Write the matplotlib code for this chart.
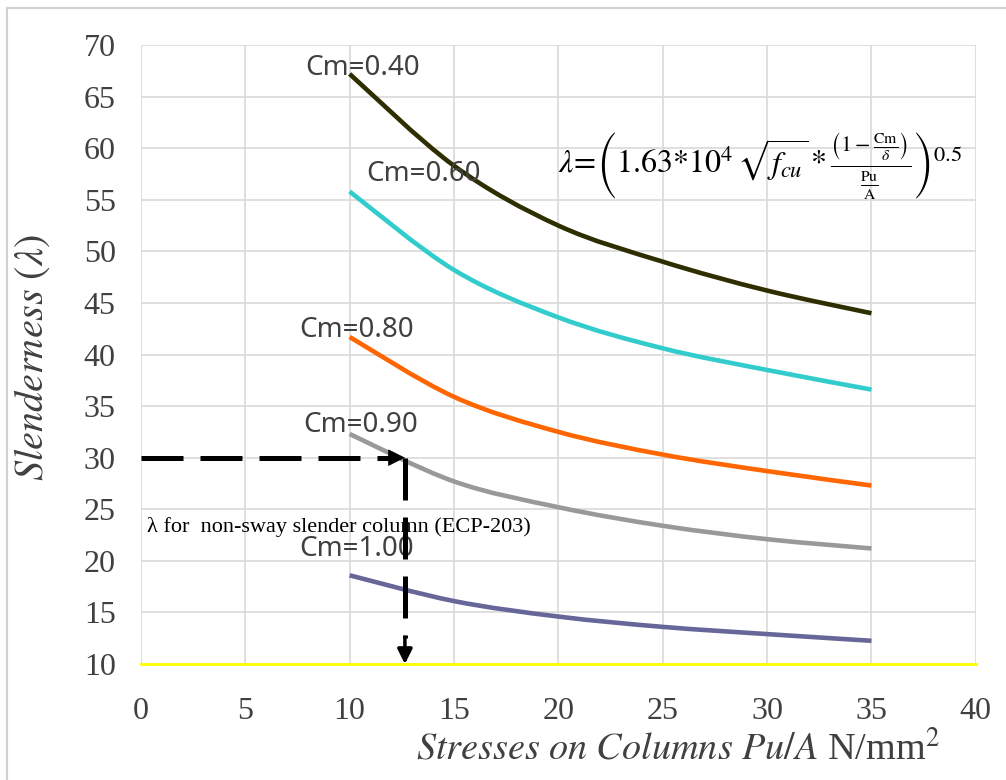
import matplotlib
matplotlib.use("Agg")
import matplotlib.pyplot as plt
from matplotlib.path import Path
from matplotlib.patches import PathPatch, Rectangle

# Pu/A stresses (N/mm2) and slenderness for each Cm
stress = [10, 15, 20, 25, 30, 35]
lam_040 = [67.2, 58.3, 52.5, 49.0, 46.2, 44.0]
lam_060 = [55.8, 48.2, 43.6, 40.6, 38.5, 36.6]
lam_080 = [41.7, 35.9, 32.5, 30.3, 28.7, 27.3]
lam_090 = [32.3, 27.7, 25.2, 23.4, 22.1, 21.2]
lam_100 = [18.6, 16.1, 14.6, 13.6, 12.9, 12.25]
series = [lam_040, lam_060, lam_080, lam_090, lam_100]
cm_labels = ["Cm=0.40", "Cm=0.60", "Cm=0.80", "Cm=0.90", "Cm=1.00"]
label_xy = [(7.9, 67.8), (10.8, 57.5), (7.6, 42.4), (7.8, 33.2), (7.6, 21.1)]
colors = ["#2e2e00", "#33cccc", "#ff6600", "#999999", "#666699"]

# ECP-203 limit for non-sway slender column
lam_limit = 30
stress_at_limit = 12.65

plt.rcParams["font.family"] = "Liberation Serif"
plt.rcParams["mathtext.fontset"] = "stix"


def smooth_path(xs, ys):
    # excel-like smoothed line: catmull-rom segments as cubic bezier
    pts = list(zip(xs, ys))
    verts = [pts[0]]
    codes = [Path.MOVETO]
    n = len(pts)
    for i in range(n - 1):
        p0 = pts[i - 1] if i > 0 else pts[i]
        p1 = pts[i]
        p2 = pts[i + 1]
        p3 = pts[i + 2] if i + 2 < n else pts[i + 1]
        c1 = (p1[0] + (p2[0] - p0[0]) / 6, p1[1] + (p2[1] - p0[1]) / 6)
        c2 = (p2[0] - (p3[0] - p1[0]) / 6, p2[1] - (p3[1] - p1[1]) / 6)
        verts += [c1, c2, p2]
        codes += [Path.CURVE4] * 3
    return Path(verts, codes)


fig = plt.figure(figsize=(10.06, 7.8), dpi=100)
ax = fig.add_axes([0.140, 0.1487, 0.830, 0.7936])

fig.add_artist(Rectangle((7 / 1006, -0.1), 1.2, 1 - 8 / 780 + 0.1, fill=False,
                         ec="#d0d0d0", lw=1.5, transform=fig.transFigure))

for ys, c in zip(series, colors):
    ax.add_patch(PathPatch(smooth_path(stress, ys), fill=False, ec=c, lw=3.3,
                           capstyle="butt", zorder=3))

for txt, (x, y) in zip(cm_labels, label_xy):
    ax.text(x, y, txt, ha="left", va="center", fontsize=20, color="#404040",
            family="Noto Sans", zorder=4)

ax.text(0.3, 23.3, "λ for  non-sway slender column (ECP-203)", ha="left",
        va="center", fontsize=16, color="black", zorder=4)

formula = (r"$\lambda\!=\!\left(1.63{*}10^{4}\,\sqrt{f_{cu}}\,{*}\,"
           r"\frac{\left(1-\frac{\mathrm{Cm}}{\delta}\right)}{\frac{\mathrm{Pu}}{\mathrm{A}}}"
           r"\right)^{0.5}$")
ax.text(20.0, 58.2, formula, ha="left", va="center", fontsize=23, color="black")

# dashed arrows
dash = (0, (8.4, 3.4))
ax.plot([0, stress_at_limit - 0.5], [lam_limit, lam_limit], color="black",
        lw=3.6, ls=dash, zorder=5, solid_capstyle="butt", dash_capstyle="butt")
ax.annotate("", xy=(stress_at_limit, lam_limit), xytext=(stress_at_limit - 0.6, lam_limit),
            arrowprops=dict(arrowstyle="-|>", color="black", lw=0.5,
                            mutation_scale=28, shrinkA=0, shrinkB=0), zorder=5)
ax.plot([stress_at_limit, stress_at_limit], [lam_limit, 12.5], color="black",
        lw=3.6, ls=dash, zorder=5, dash_capstyle="butt")
ax.annotate("", xy=(stress_at_limit, 10), xytext=(stress_at_limit, 12.6),
            arrowprops=dict(arrowstyle="-|>", color="black", lw=2.5,
                            mutation_scale=22, shrinkA=0, shrinkB=0), zorder=5)

ax.set_xlim(0, 40)
ax.set_ylim(10, 70)
ax.set_xticks(range(0, 41, 5))
ax.set_yticks(range(10, 71, 5))
ax.grid(True, color="#d9d9d9", lw=1.2, zorder=0)
ax.set_axisbelow(True)
for s in ["top", "right", "left"]:
    ax.spines[s].set_visible(False)
ax.spines["bottom"].set_color("#ffff00")
ax.spines["bottom"].set_linewidth(2)
ax.tick_params(axis="both", length=0, labelsize=23, labelcolor="#404040")
ax.tick_params(axis="y", pad=18)
ax.tick_params(axis="x", pad=24)

ax.set_ylabel(r"$\mathit{Slenderness\ (\lambda)}$", fontsize=29, color="#404040")
ax.yaxis.set_label_coords(-0.106, 0.496)
ax.set_xlabel(r"$\mathit{Stresses\ on\ Columns\ Pu/A}$ N/mm$^{2}$", fontsize=27.5,
              color="#404040")
ax.xaxis.set_label_coords(0.644, -0.108)

fig.savefig("out.png", dpi=100)
